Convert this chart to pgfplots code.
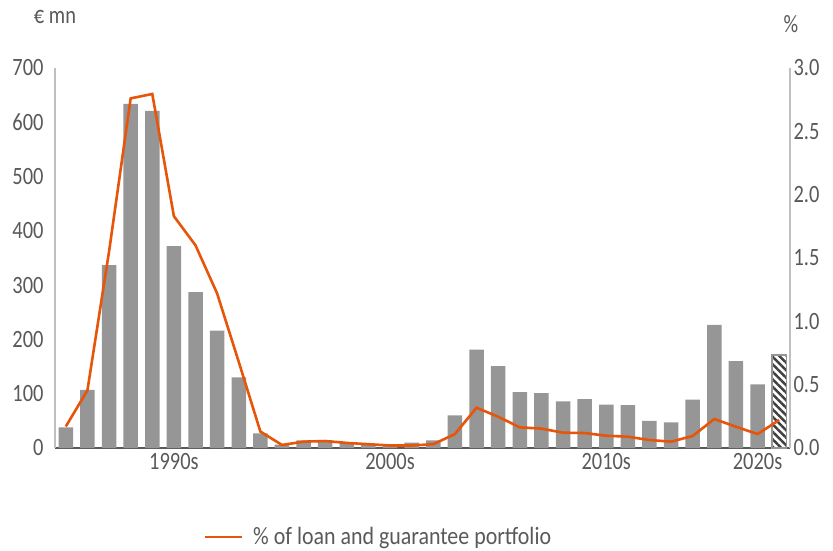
\documentclass[border=0pt]{standalone}
\usepackage{fontspec}
\setmainfont{Carlito}[FakeStretch=0.82]
\newfontfamily\lf{Carlito}[FakeStretch=0.88]
\usepackage{pgfplots}
\pgfplotsset{compat=1.18}
\usetikzlibrary{patterns.meta}
\definecolor{barg}{RGB}{150,150,150}
\definecolor{ora}{RGB}{230,85,10}
\definecolor{txt}{RGB}{89,89,89}
\definecolor{lax}{RGB}{191,191,191}
\definecolor{bax}{RGB}{89,89,89}
\definecolor{hatch}{RGB}{64,64,64}
\newcommand\cf{\fontsize{25}{30}\selectfont}
\begin{document}
\begin{tikzpicture}
\useasboundingbox (-55bp,-103bp) rectangle (778bp,448bp);
\begin{axis}[
  at={(0,0)}, anchor=south west,
  scale only axis, width=735bp, height=380bp,
  xmin=-0.5, xmax=33.5, ymin=0, ymax=700,
  axis x line*=bottom, axis y line*=left,
  x axis line style={draw=bax, line width=1.3bp, -},
  y axis line style={draw=lax, line width=1.5bp, -},
  xtick={5,15,25,32}, xticklabels={1990s,2000s,2010s,2020s},
  ytick={0,100,200,300,400,500,600,700},
  major tick length=0pt,
  tick label style={font=\cf, text=txt},
  /pgf/number format/assume math mode=true,
  xticklabel style={yshift=-2bp},
  yticklabel style={xshift=-8bp},
  ybar, bar width=14.5bp, bar shift=0pt,
  clip=false,
]
\addplot[fill=barg, draw=none] coordinates {
(0,38) (1,107) (2,337) (3,634) (4,621) (5,372) (6,287) (7,216) (8,130) (9,27)
(10,6) (11,14) (12,14) (13,10) (14,8) (15,6) (16,10) (17,14) (18,60) (19,181)
(20,151) (21,103) (22,101) (23,86) (24,90) (25,80) (26,79) (27,50) (28,47) (29,89)
(30,227) (31,160) (32,117)
};
\addplot[draw=barg, line width=1.5bp,
  pattern={Lines[angle=-45,distance=5.3bp,line width=2.5bp]}, pattern color=hatch] coordinates {(33,171)};
\node[font=\cf, text=txt] at (rel axis cs:0,1.134) {€ mn};
\node[font=\cf, text=txt] at (rel axis cs:1.0014,1.116) {\%};
\end{axis}
\begin{axis}[
  at={(0,0)}, anchor=south west,
  scale only axis, width=735bp, height=380bp,
  xmin=-0.5, xmax=33.5, ymin=0, ymax=3,
  axis x line=none, axis y line*=right,
  y axis line style={draw=lax, line width=1.5bp, -},
  ytick={0,0.5,1,1.5,2,2.5,3},
  major tick length=0pt,
  tick label style={font=\cf, text=txt},
  /pgf/number format/assume math mode=true,
  yticklabel style={/pgf/number format/.cd, fixed, fixed zerofill, precision=1},
  legend style={at={(0.44,-0.234)}, anchor=center, draw=none, fill=none, font=\lf\cf, text=txt},
  legend image code/.code={\draw[#1] (0bp,0bp) -- (37bp,0bp); \path (45bp,0bp);},
  clip=false,
]
\addplot[ora, line width=2.6bp] coordinates {
(0,0.17) (1,0.455) (2,1.55) (3,2.76) (4,2.795) (5,1.83) (6,1.60) (7,1.22) (8,0.68) (9,0.13)
(10,0.024) (11,0.05) (12,0.055) (13,0.04) (14,0.03) (15,0.02) (16,0.02) (17,0.03) (18,0.11) (19,0.318)
(20,0.247) (21,0.163) (22,0.153) (23,0.121) (24,0.118) (25,0.097) (26,0.089) (27,0.063) (28,0.05) (29,0.095)
(30,0.229) (31,0.168) (32,0.11) (33,0.221)
};
\addlegendentry{\% of loan and guarantee portfolio}
\end{axis}
\end{tikzpicture}
\end{document}
